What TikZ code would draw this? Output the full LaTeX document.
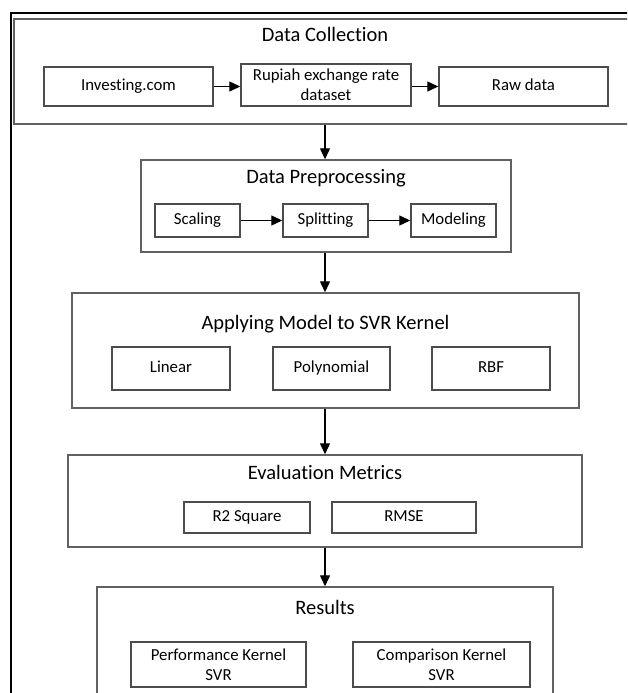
\documentclass[tikz,border=0pt]{standalone}
\usepackage{fontspec}
\setmainfont{Carlito}[Ligatures=NoCommon]
\usetikzlibrary{arrows.meta}
\begin{document}
\begin{tikzpicture}[x=1pt,y=-1pt,
  box/.style={draw=black!70,line width=1.4pt,fill=white,inner sep=0pt,
    font=\fontsize{16.8}{20}\selectfont,align=center},
  one/.style={box,text height=11.5pt,text depth=3.5pt},
  panel/.style={draw=black!62,line width=1.4pt,inner sep=0pt},
  ttl/.style={font=\fontsize{20.5}{24}\selectfont,inner sep=0pt},
  arr/.style={line width=1.2pt,-{Triangle[length=11pt,width=10pt]}}]
\useasboundingbox (0,0) rectangle (627,693);
\clip (0,0) rectangle (627,693);
\fill[white] (0,0) rectangle (627,693);
% outer frame
\draw[line width=2pt,black] (11,710) -- (11,13) -- (650,13);
% Data Collection
\node[panel,minimum width=640pt,minimum height=105pt] (dc) at (334,71.5) {};
\node[ttl] (dct) at (325,34) {Data Collection};
\node[one,minimum width=169pt,minimum height=39pt] (inv) at (128.5,86.5) {Investing.com};
\node[box,minimum width=170pt,minimum height=42pt] (rup) at (326,85) {Rupiah exchange rate\\dataset};
\node[one,minimum width=169pt,minimum height=39pt] (raw) at (523.5,86.5) {Raw data};
\draw[arr] (inv.east) -- (inv.east -| rup.west);
\draw[arr] (rup.east |- raw.west) -- (raw.west);
% Data Preprocessing
\node[panel,minimum width=370pt,minimum height=92pt] (dp) at (326,206) {};
\node[ttl] (dpt) at (326,178) {Data Preprocessing};
\node[one,minimum width=85pt,minimum height=33pt] (sc) at (197.5,220.5) {Scaling};
\node[one,minimum width=85pt,minimum height=33pt] (sp) at (325.5,220.5) {Splitting};
\node[one,minimum width=85pt,minimum height=33pt] (mo) at (453.5,220.5) {Modeling};
\draw[arr] (sc) -- (sp);
\draw[arr] (sp) -- (mo);
% Applying
\node[panel,minimum width=507pt,minimum height=115pt] (ap) at (325.5,350.5) {};
\node[ttl] (apt) at (325.5,324) {Applying Model to SVR Kernel};
\node[one,minimum width=118pt,minimum height=43pt] (lin) at (171,368.5) {Linear};
\node[one,minimum width=117pt,minimum height=43pt] (pol) at (331.5,368.5) {Polynomial};
\node[one,minimum width=118pt,minimum height=43pt] (rbf) at (491,368.5) {RBF};
% Evaluation
\node[panel,minimum width=514pt,minimum height=92pt] (ev) at (325,501) {};
\node[ttl] (evt) at (325,472) {Evaluation Metrics};
\node[one,minimum width=126pt,minimum height=31pt] (r2) at (247,517.5) {R2 Square};
\node[one,minimum width=144pt,minimum height=31pt] (rm) at (404,517.5) {RMSE};
% Results
\node[panel,minimum width=456pt,minimum height=133pt] (rs) at (325,653.5) {};
\node[ttl] (rst) at (325,607) {Results};
\node[box,minimum width=175pt,minimum height=45pt] (pk) at (218.5,664.5) {Performance Kernel\\SVR};
\node[box,minimum width=177pt,minimum height=45pt] (ck) at (441.5,664.5) {Comparison Kernel\\SVR};
% vertical connectors
\draw[arr] (dc.south -| 325,0) -- (dp.north -| 325,0);
\draw[arr] (dp.south -| 325,0) -- (ap.north -| 325,0);
\draw[arr] (ap.south -| 325,0) -- (ev.north -| 325,0);
\draw[arr] (ev.south -| 325,0) -- (rs.north -| 325,0);
\end{tikzpicture}
\end{document}
